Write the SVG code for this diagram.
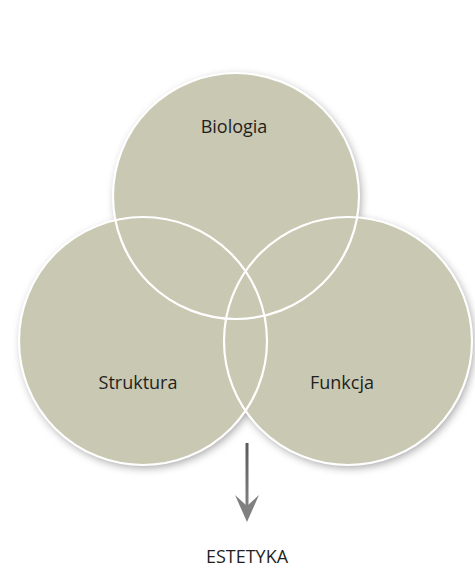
<svg xmlns="http://www.w3.org/2000/svg" width="475" height="568" viewBox="0 0 475 568">
  <defs>
    <filter id="shadow" x="-20%" y="-20%" width="140%" height="140%">
      <feDropShadow dx="2" dy="3" stdDeviation="4" flood-color="#000" flood-opacity="0.35"/>
    </filter>
    <linearGradient id="arrowGrad" gradientUnits="userSpaceOnUse" x1="0" y1="443" x2="0" y2="522">
      <stop offset="0" stop-color="#5a5a5a"/>
      <stop offset="1" stop-color="#8a8a8a"/>
    </linearGradient>
  </defs>
  <style>
    .fill { fill: #c9c8b2; }
    .ring { fill: none; stroke: #ffffff; stroke-width: 2.2; }
    .label { font-family: "Open Sans", "Noto Sans", sans-serif; font-size: 18px; fill: #231f20; text-anchor: middle; }
  </style>
  <rect x="0" y="0" width="475" height="568" fill="#ffffff"/>

  <g filter="url(#shadow)">
    <circle class="fill" cx="143" cy="341" r="124"/>
    <circle class="fill" cx="348" cy="341" r="124"/>
    <circle class="fill" cx="236" cy="196" r="123"/>
  </g>

  <g id="node-biologia">
    <circle class="ring" cx="236" cy="196" r="123"/>
    <text class="label" x="234" y="133">Biologia</text>
  </g>
  <g id="node-struktura">
    <circle class="ring" cx="143" cy="341" r="124"/>
    <text class="label" x="138" y="389">Struktura</text>
  </g>
  <g id="node-funkcja">
    <circle class="ring" cx="348" cy="341" r="124"/>
    <text class="label" x="342" y="389">Funkcja</text>
  </g>

  <g id="connectors">
    <line x1="247" y1="443" x2="247" y2="510" stroke="url(#arrowGrad)" stroke-width="3"/>
    <path d="M235,495 L247,522 L259,495 L247,506 Z" fill="#808080"/>
  </g>

  <g id="node-estetyka">
    <text class="label" x="247" y="563">ESTETYKA</text>
  </g>
</svg>
